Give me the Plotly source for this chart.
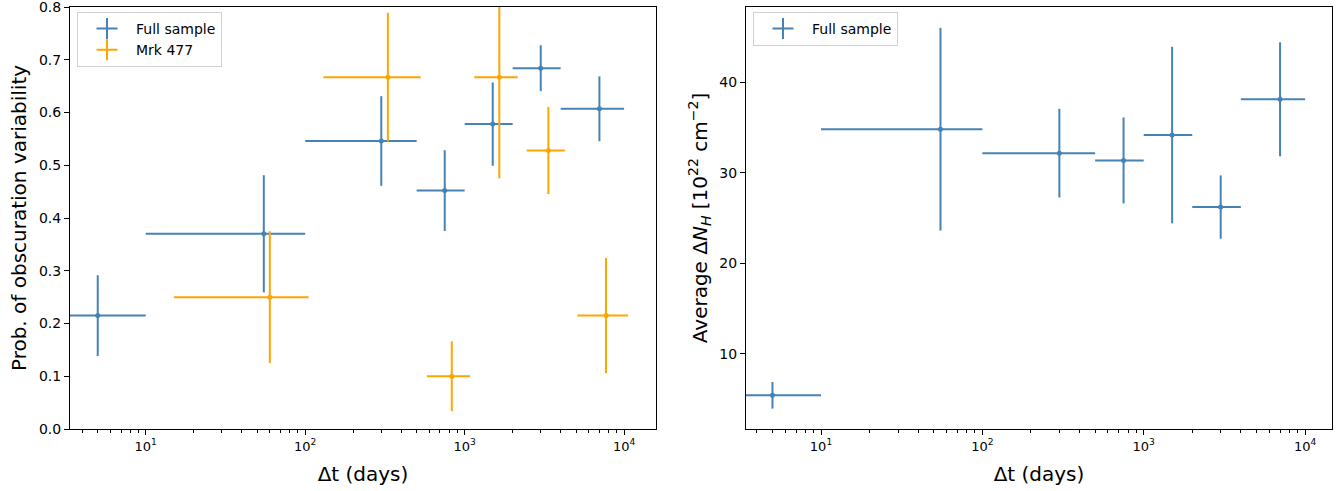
import plotly.graph_objects as go

# ---- data ----
full_dt = [5, 55, 300, 750, 1500, 3000, 7000]
full_dt_minus = [5, 45, 200, 250, 500, 1000, 3000]
full_dt_plus = [5, 45, 200, 250, 500, 1000, 3000]
full_prob = [0.215, 0.370, 0.546, 0.452, 0.578, 0.684, 0.607]
full_prob_err = [0.0765, 0.111, 0.085, 0.0765, 0.079, 0.0435, 0.0615]

mrk_dt = [60, 330, 830, 1650, 3350, 7700]
mrk_dt_minus = [45, 200, 250, 500, 900, 2600]
mrk_dt_plus = [45, 200, 250, 500, 900, 2900]
mrk_prob = [0.25, 0.667, 0.10, 0.667, 0.528, 0.215]
mrk_prob_err = [0.125, 0.122, 0.066, 0.192, 0.0825, 0.109]

nh_avg = [5.4, 34.8, 32.15, 31.35, 34.15, 26.2, 38.1]
nh_err = [1.47, 11.2, 4.9, 4.75, 9.75, 3.5, 6.3]

major_ticks = [10, 100, 1000, 10000]
major_text = ["10<sup>1</sup>", "10<sup>2</sup>", "10<sup>3</sup>", "10<sup>4</sup>"]
minor_ticks = [m * 10 ** e for e in range(0, 5) for m in range(2, 10)]
prob_ticks = [0, 0.1, 0.2, 0.3, 0.4, 0.5, 0.6, 0.7, 0.8]
nh_ticks = [10, 20, 30, 40]

BLUE = "#4682b4"
ORANGE = "#ffa500"
FONT = "DejaVu Sans"

fig = go.Figure()


def add_err(x, y, xm, xp, ye, color, xa, ya):
    fig.add_trace(go.Scatter(
        x=x, y=y, mode="markers", xaxis=xa, yaxis=ya, showlegend=False,
        marker=dict(color=color, size=5),
        error_x=dict(type="data", array=xp, arrayminus=xm, symmetric=False,
                     color=color, thickness=2, width=0),
        error_y=dict(type="data", array=ye, color=color, thickness=2, width=0),
        hoverinfo="x+y"))


def add_legend(name, color, legend, xa, ya):
    fig.add_trace(go.Scatter(
        x=[None], y=[None], mode="markers", name=name, legend=legend,
        xaxis=xa, yaxis=ya,
        marker=dict(symbol="cross-thin", size=15, color=color,
                    line=dict(color=color, width=2))))


add_err(full_dt, full_prob, full_dt_minus, full_dt_plus, full_prob_err, BLUE, "x", "y")
add_err(mrk_dt, mrk_prob, mrk_dt_minus, mrk_dt_plus, mrk_prob_err, ORANGE, "x", "y")
add_err(full_dt, nh_avg, full_dt_minus, full_dt_plus, nh_err, BLUE, "x2", "y2")

add_legend("Full sample", BLUE, "legend", "x", "y")
add_legend("Mrk 477", ORANGE, "legend", "x", "y")
add_legend("Full sample", BLUE, "legend2", "x2", "y2")

W, H = 1340, 491
ydom = [1 - 429 / H, 1 - 7 / H]

common_x = dict(
    type="log", showline=True, linecolor="black", linewidth=1, mirror=True,
    ticks="outside", ticklen=5, tickwidth=1, tickcolor="black",
    tickvals=major_ticks, ticktext=major_text, showgrid=False, zeroline=False,
    tickfont=dict(family=FONT, size=13, color="black"),
    minor=dict(ticks="outside", ticklen=3, tickwidth=1, tickcolor="black",
               tickvals=minor_ticks, showgrid=False),
    title=dict(text="Δt (days)", font=dict(family=FONT, size=20, color="black"),
               standoff=14),
    ticklabeloverflow="allow",
    automargin=False,
)
common_y = dict(
    showline=True, linecolor="black", linewidth=1, mirror=True,
    ticks="outside", ticklen=5, tickwidth=1, tickcolor="black",
    showgrid=False, zeroline=False,
    tickfont=dict(family=FONT, size=14, color="black"),
    ticklabeloverflow="allow",
    automargin=False,
)
leg_common = dict(xanchor="left", yanchor="top",
                  bgcolor="rgba(255,255,255,0.8)", bordercolor="#d0d0d0", borderwidth=1,
                  font=dict(family=FONT, size=14, color="black"), itemwidth=48,
                  tracegroupgap=0)

fig.update_layout(
    width=W, height=H,
    margin=dict(l=0, r=0, t=0, b=0),
    paper_bgcolor="white", plot_bgcolor="white",
    font=dict(family=FONT, size=14, color="black"),
    xaxis=dict(common_x, domain=[70 / W, 656 / W], range=[0.525, 4.2], anchor="y"),
    yaxis=dict(common_y, domain=ydom, range=[0, 0.8], tickvals=prob_ticks,
               tickformat=".1f", anchor="x",
               title=dict(text="Prob. of obscuration variability",
                          font=dict(family=FONT, size=20, color="black"), standoff=6)),
    xaxis2=dict(common_x, domain=[746 / W, 1332 / W], range=[0.535, 4.167], anchor="y2"),
    yaxis2=dict(common_y, domain=ydom, range=[1.68, 48.3], tickvals=nh_ticks, anchor="x2",
                title=dict(text="Average Δ<i>N</i><sub><i>H</i></sub> [10<sup>22</sup> cm<sup>−2</sup>]",
                           font=dict(family=FONT, size=20, color="black"), standoff=6)),
    legend=dict(leg_common, x=77 / W, y=1 - 12 / H),
    legend2=dict(leg_common, x=753 / W, y=1 - 12 / H),
)

fig.write_html("out.html", config={"displayModeBar": False},
               post_script="document.body.style.margin='0px';")
